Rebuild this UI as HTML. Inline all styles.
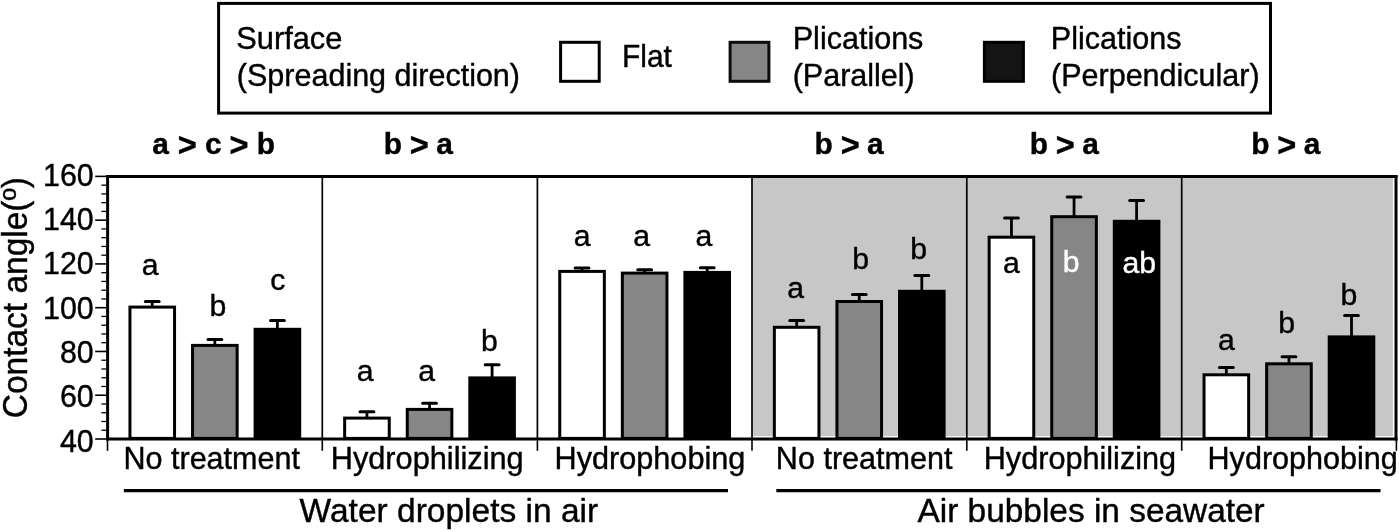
<!DOCTYPE html>
<html><head><meta charset="utf-8"><title>Contact angle chart</title>
<style>
html,body{margin:0;padding:0;background:#fff;}
svg{display:block;font-family:"Liberation Sans", sans-serif;}
</style></head>
<body>
<svg width="1400" height="532" viewBox="0 0 1400 532">
<rect width="1400" height="532" fill="#fff"/>
<rect x="218.6" y="3.4" width="1051.9" height="109.7" fill="#fff" stroke="#000" stroke-width="3"/>
<rect x="560.6" y="42.3" width="38.6" height="39" fill="#fff" stroke="#000" stroke-width="3"/>
<rect x="730.1" y="42.3" width="38.8" height="39" fill="#868686" stroke="#0c0c0c" stroke-width="3"/>
<rect x="984.4" y="42.3" width="39" height="39" fill="#141414" stroke="#000" stroke-width="3"/>
<rect x="752" y="176.4" width="640.9" height="259.8" fill="#c7c7c7"/>
<line x1="322.3" y1="176.4" x2="322.3" y2="439" stroke="#000" stroke-width="1.7"/>
<line x1="537.4" y1="176.4" x2="537.4" y2="439" stroke="#000" stroke-width="1.7"/>
<line x1="752.0" y1="176.4" x2="752.0" y2="439" stroke="#000" stroke-width="1.7"/>
<line x1="966.8" y1="176.4" x2="966.8" y2="439" stroke="#000" stroke-width="1.7"/>
<line x1="1181.7" y1="176.4" x2="1181.7" y2="439" stroke="#000" stroke-width="1.7"/>
<line x1="152.25" y1="301.40" x2="152.25" y2="307.10" stroke="#000" stroke-width="2.8"/>
<line x1="145.35" y1="301.40" x2="159.15" y2="301.40" stroke="#000" stroke-width="3" stroke-linecap="round"/>
<rect x="129.95" y="307.10" width="44.60" height="131.30" fill="#fff" stroke="#000" stroke-width="3"/>
<line x1="214.85" y1="339.60" x2="214.85" y2="345.40" stroke="#000" stroke-width="2.8"/>
<line x1="207.95" y1="339.60" x2="221.75" y2="339.60" stroke="#000" stroke-width="3" stroke-linecap="round"/>
<rect x="192.55" y="345.40" width="44.60" height="93.00" fill="#868686" stroke="#000" stroke-width="3"/>
<line x1="277.40" y1="320.50" x2="277.40" y2="329.30" stroke="#000" stroke-width="2.8"/>
<line x1="270.50" y1="320.50" x2="284.30" y2="320.50" stroke="#000" stroke-width="3" stroke-linecap="round"/>
<rect x="255.10" y="329.30" width="44.60" height="109.10" fill="#000" stroke="#000" stroke-width="3"/>
<line x1="366.95" y1="411.80" x2="366.95" y2="418.10" stroke="#000" stroke-width="2.8"/>
<line x1="360.05" y1="411.80" x2="373.85" y2="411.80" stroke="#000" stroke-width="3" stroke-linecap="round"/>
<rect x="344.65" y="418.10" width="44.60" height="20.30" fill="#fff" stroke="#000" stroke-width="3"/>
<line x1="429.55" y1="403.20" x2="429.55" y2="409.40" stroke="#000" stroke-width="2.8"/>
<line x1="422.65" y1="403.20" x2="436.45" y2="403.20" stroke="#000" stroke-width="3" stroke-linecap="round"/>
<rect x="407.25" y="409.40" width="44.60" height="29.00" fill="#868686" stroke="#000" stroke-width="3"/>
<line x1="492.10" y1="364.70" x2="492.10" y2="377.90" stroke="#000" stroke-width="2.8"/>
<line x1="485.20" y1="364.70" x2="499.00" y2="364.70" stroke="#000" stroke-width="3" stroke-linecap="round"/>
<rect x="469.80" y="377.90" width="44.60" height="60.50" fill="#000" stroke="#000" stroke-width="3"/>
<line x1="582.05" y1="268.00" x2="582.05" y2="271.40" stroke="#000" stroke-width="2.8"/>
<line x1="575.15" y1="268.00" x2="588.95" y2="268.00" stroke="#000" stroke-width="3" stroke-linecap="round"/>
<rect x="559.75" y="271.40" width="44.60" height="167.00" fill="#fff" stroke="#000" stroke-width="3"/>
<line x1="644.65" y1="269.70" x2="644.65" y2="273.10" stroke="#000" stroke-width="2.8"/>
<line x1="637.75" y1="269.70" x2="651.55" y2="269.70" stroke="#000" stroke-width="3" stroke-linecap="round"/>
<rect x="622.35" y="273.10" width="44.60" height="165.30" fill="#868686" stroke="#000" stroke-width="3"/>
<line x1="707.20" y1="267.70" x2="707.20" y2="272.40" stroke="#000" stroke-width="2.8"/>
<line x1="700.30" y1="267.70" x2="714.10" y2="267.70" stroke="#000" stroke-width="3" stroke-linecap="round"/>
<rect x="684.90" y="272.40" width="44.60" height="166.00" fill="#000" stroke="#000" stroke-width="3"/>
<line x1="796.65" y1="320.40" x2="796.65" y2="327.30" stroke="#000" stroke-width="2.8"/>
<line x1="789.75" y1="320.40" x2="803.55" y2="320.40" stroke="#000" stroke-width="3" stroke-linecap="round"/>
<rect x="774.35" y="327.30" width="44.60" height="111.10" fill="#fff" stroke="#000" stroke-width="3"/>
<line x1="859.25" y1="294.50" x2="859.25" y2="301.50" stroke="#000" stroke-width="2.8"/>
<line x1="852.35" y1="294.50" x2="866.15" y2="294.50" stroke="#000" stroke-width="3" stroke-linecap="round"/>
<rect x="836.95" y="301.50" width="44.60" height="136.90" fill="#868686" stroke="#000" stroke-width="3"/>
<line x1="921.80" y1="275.50" x2="921.80" y2="291.30" stroke="#000" stroke-width="2.8"/>
<line x1="914.90" y1="275.50" x2="928.70" y2="275.50" stroke="#000" stroke-width="3" stroke-linecap="round"/>
<rect x="899.50" y="291.30" width="44.60" height="147.10" fill="#000" stroke="#000" stroke-width="3"/>
<line x1="1011.45" y1="217.90" x2="1011.45" y2="237.20" stroke="#000" stroke-width="2.8"/>
<line x1="1004.55" y1="217.90" x2="1018.35" y2="217.90" stroke="#000" stroke-width="3" stroke-linecap="round"/>
<rect x="989.15" y="237.20" width="44.60" height="201.20" fill="#fff" stroke="#000" stroke-width="3"/>
<line x1="1074.05" y1="197.00" x2="1074.05" y2="216.70" stroke="#000" stroke-width="2.8"/>
<line x1="1067.15" y1="197.00" x2="1080.95" y2="197.00" stroke="#000" stroke-width="3" stroke-linecap="round"/>
<rect x="1051.75" y="216.70" width="44.60" height="221.70" fill="#868686" stroke="#000" stroke-width="3"/>
<line x1="1136.60" y1="200.50" x2="1136.60" y2="221.30" stroke="#000" stroke-width="2.8"/>
<line x1="1129.70" y1="200.50" x2="1143.50" y2="200.50" stroke="#000" stroke-width="3" stroke-linecap="round"/>
<rect x="1114.30" y="221.30" width="44.60" height="217.10" fill="#000" stroke="#000" stroke-width="3"/>
<line x1="1226.35" y1="367.50" x2="1226.35" y2="374.80" stroke="#000" stroke-width="2.8"/>
<line x1="1219.45" y1="367.50" x2="1233.25" y2="367.50" stroke="#000" stroke-width="3" stroke-linecap="round"/>
<rect x="1204.05" y="374.80" width="44.60" height="63.60" fill="#fff" stroke="#000" stroke-width="3"/>
<line x1="1288.95" y1="356.70" x2="1288.95" y2="363.80" stroke="#000" stroke-width="2.8"/>
<line x1="1282.05" y1="356.70" x2="1295.85" y2="356.70" stroke="#000" stroke-width="3" stroke-linecap="round"/>
<rect x="1266.65" y="363.80" width="44.60" height="74.60" fill="#868686" stroke="#000" stroke-width="3"/>
<line x1="1351.50" y1="315.60" x2="1351.50" y2="336.90" stroke="#000" stroke-width="2.8"/>
<line x1="1344.60" y1="315.60" x2="1358.40" y2="315.60" stroke="#000" stroke-width="3" stroke-linecap="round"/>
<rect x="1329.20" y="336.90" width="44.60" height="101.50" fill="#000" stroke="#000" stroke-width="3"/>
<line x1="107.6" y1="174.9" x2="107.6" y2="440.5" stroke="#000" stroke-width="3"/>
<line x1="106.1" y1="176.4" x2="1397.5" y2="176.4" stroke="#000" stroke-width="3"/>
<line x1="106.1" y1="439" x2="1397.5" y2="439" stroke="#000" stroke-width="3"/>
<line x1="1396.0" y1="174.9" x2="1396.0" y2="440.5" stroke="#000" stroke-width="3"/>
<line x1="95.2" y1="439.00" x2="106.5" y2="439.00" stroke="#000" stroke-width="1.6"/>
<line x1="101.4" y1="430.25" x2="106.5" y2="430.25" stroke="#000" stroke-width="1.3"/>
<line x1="101.4" y1="421.49" x2="106.5" y2="421.49" stroke="#000" stroke-width="1.3"/>
<line x1="101.4" y1="412.74" x2="106.5" y2="412.74" stroke="#000" stroke-width="1.3"/>
<line x1="101.4" y1="403.99" x2="106.5" y2="403.99" stroke="#000" stroke-width="1.3"/>
<line x1="95.2" y1="395.23" x2="106.5" y2="395.23" stroke="#000" stroke-width="1.6"/>
<line x1="101.4" y1="386.48" x2="106.5" y2="386.48" stroke="#000" stroke-width="1.3"/>
<line x1="101.4" y1="377.73" x2="106.5" y2="377.73" stroke="#000" stroke-width="1.3"/>
<line x1="101.4" y1="368.97" x2="106.5" y2="368.97" stroke="#000" stroke-width="1.3"/>
<line x1="101.4" y1="360.22" x2="106.5" y2="360.22" stroke="#000" stroke-width="1.3"/>
<line x1="95.2" y1="351.47" x2="106.5" y2="351.47" stroke="#000" stroke-width="1.6"/>
<line x1="101.4" y1="342.71" x2="106.5" y2="342.71" stroke="#000" stroke-width="1.3"/>
<line x1="101.4" y1="333.96" x2="106.5" y2="333.96" stroke="#000" stroke-width="1.3"/>
<line x1="101.4" y1="325.21" x2="106.5" y2="325.21" stroke="#000" stroke-width="1.3"/>
<line x1="101.4" y1="316.45" x2="106.5" y2="316.45" stroke="#000" stroke-width="1.3"/>
<line x1="95.2" y1="307.70" x2="106.5" y2="307.70" stroke="#000" stroke-width="1.6"/>
<line x1="101.4" y1="298.95" x2="106.5" y2="298.95" stroke="#000" stroke-width="1.3"/>
<line x1="101.4" y1="290.19" x2="106.5" y2="290.19" stroke="#000" stroke-width="1.3"/>
<line x1="101.4" y1="281.44" x2="106.5" y2="281.44" stroke="#000" stroke-width="1.3"/>
<line x1="101.4" y1="272.69" x2="106.5" y2="272.69" stroke="#000" stroke-width="1.3"/>
<line x1="95.2" y1="263.93" x2="106.5" y2="263.93" stroke="#000" stroke-width="1.6"/>
<line x1="101.4" y1="255.18" x2="106.5" y2="255.18" stroke="#000" stroke-width="1.3"/>
<line x1="101.4" y1="246.43" x2="106.5" y2="246.43" stroke="#000" stroke-width="1.3"/>
<line x1="101.4" y1="237.67" x2="106.5" y2="237.67" stroke="#000" stroke-width="1.3"/>
<line x1="101.4" y1="228.92" x2="106.5" y2="228.92" stroke="#000" stroke-width="1.3"/>
<line x1="95.2" y1="220.17" x2="106.5" y2="220.17" stroke="#000" stroke-width="1.6"/>
<line x1="101.4" y1="211.41" x2="106.5" y2="211.41" stroke="#000" stroke-width="1.3"/>
<line x1="101.4" y1="202.66" x2="106.5" y2="202.66" stroke="#000" stroke-width="1.3"/>
<line x1="101.4" y1="193.91" x2="106.5" y2="193.91" stroke="#000" stroke-width="1.3"/>
<line x1="101.4" y1="185.15" x2="106.5" y2="185.15" stroke="#000" stroke-width="1.3"/>
<line x1="95.2" y1="176.40" x2="106.5" y2="176.40" stroke="#000" stroke-width="1.6"/>
<line x1="107.5" y1="439" x2="107.5" y2="450.8" stroke="#000" stroke-width="1.6"/>
<line x1="322.3" y1="439" x2="322.3" y2="450.8" stroke="#000" stroke-width="1.6"/>
<line x1="537.4" y1="439" x2="537.4" y2="450.8" stroke="#000" stroke-width="1.6"/>
<line x1="752.0" y1="439" x2="752.0" y2="450.8" stroke="#000" stroke-width="1.6"/>
<line x1="966.8" y1="439" x2="966.8" y2="450.8" stroke="#000" stroke-width="1.6"/>
<line x1="1181.7" y1="439" x2="1181.7" y2="450.8" stroke="#000" stroke-width="1.6"/>
<line x1="1396.4" y1="439" x2="1396.4" y2="450.8" stroke="#000" stroke-width="1.6"/>
<line x1="123.8" y1="490.6" x2="728" y2="490.6" stroke="#000" stroke-width="3.4"/>
<line x1="776.3" y1="490.6" x2="1380.5" y2="490.6" stroke="#000" stroke-width="3.4"/>
<text transform="translate(236.27,48.95)" font-size="30.77" fill="#000" stroke="#000" stroke-width="0.4">Surface</text>
<text transform="translate(236.87,86.10)" font-size="30.51" fill="#000" stroke="#000" stroke-width="0.4">(Spreading direction)</text>
<text transform="translate(622.00,67.30) scale(1,1.02)" font-size="29.95" fill="#000" stroke="#000" stroke-width="0.4">Flat</text>
<text transform="translate(792.76,48.95)" font-size="30.53" fill="#000" stroke="#000" stroke-width="0.4">Plications</text>
<text transform="translate(792.67,86.10)" font-size="30.53" fill="#000" stroke="#000" stroke-width="0.4">(Parallel)</text>
<text transform="translate(1050.86,48.95)" font-size="30.51" fill="#000" stroke="#000" stroke-width="0.4">Plications</text>
<text transform="translate(1051.07,86.10)" font-size="30.51" fill="#000" stroke="#000" stroke-width="0.4">(Perpendicular)</text>
<text transform="translate(42.98,185.68) scale(1,1.055)" font-size="30.40" fill="#000" stroke="#000" stroke-width="0.4">160</text>
<text transform="translate(42.98,230.02) scale(1,1.055)" font-size="30.40" fill="#000" stroke="#000" stroke-width="0.4">140</text>
<text transform="translate(42.98,274.36) scale(1,1.055)" font-size="30.40" fill="#000" stroke="#000" stroke-width="0.4">120</text>
<text transform="translate(42.98,318.70) scale(1,1.055)" font-size="30.40" fill="#000" stroke="#000" stroke-width="0.4">100</text>
<text transform="translate(59.88,363.04) scale(1,1.055)" font-size="30.40" fill="#000" stroke="#000" stroke-width="0.4">80</text>
<text transform="translate(59.88,407.38) scale(1,1.055)" font-size="30.40" fill="#000" stroke="#000" stroke-width="0.4">60</text>
<text transform="translate(59.88,451.72) scale(1,1.055)" font-size="30.40" fill="#000" stroke="#000" stroke-width="0.4">40</text>
<text transform="translate(123.56,469.20)" font-size="30.51" fill="#000" stroke="#000" stroke-width="0.4">No treatment</text>
<text transform="translate(330.74,469.20)" font-size="30.73" fill="#000" stroke="#000" stroke-width="0.4">Hydrophilizing</text>
<text transform="translate(554.55,469.20)" font-size="30.65" fill="#000" stroke="#000" stroke-width="0.4">Hydrophobing</text>
<text transform="translate(775.86,469.20)" font-size="30.55" fill="#000" stroke="#000" stroke-width="0.4">No treatment</text>
<text transform="translate(983.75,469.20)" font-size="30.64" fill="#000" stroke="#000" stroke-width="0.4">Hydrophilizing</text>
<text transform="translate(1207.55,469.20)" font-size="30.57" fill="#000" stroke="#000" stroke-width="0.4">Hydrophobing</text>
<text transform="translate(299.60,522.20)" font-size="33.51" fill="#000" stroke="#000" stroke-width="0.4">Water droplets in air</text>
<text transform="translate(917.50,522.20)" font-size="33.42" fill="#000" stroke="#000" stroke-width="0.4">Air bubbles in seawater</text>
<text transform="translate(141.64,274.50)" font-size="30.20" fill="#000" stroke="#000" stroke-width="0.4">a</text>
<text transform="translate(209.54,315.90)" font-size="30.20" fill="#000" stroke="#000" stroke-width="0.4">b</text>
<text transform="translate(270.25,289.60)" font-size="30.20" fill="#000" stroke="#000" stroke-width="0.4">c</text>
<text transform="translate(356.74,380.50)" font-size="30.20" fill="#000" stroke="#000" stroke-width="0.4">a</text>
<text transform="translate(418.24,380.50)" font-size="30.20" fill="#000" stroke="#000" stroke-width="0.4">a</text>
<text transform="translate(481.04,350.60)" font-size="30.20" fill="#000" stroke="#000" stroke-width="0.4">b</text>
<text transform="translate(573.74,245.60)" font-size="30.20" fill="#000" stroke="#000" stroke-width="0.4">a</text>
<text transform="translate(633.14,245.60)" font-size="30.20" fill="#000" stroke="#000" stroke-width="0.4">a</text>
<text transform="translate(695.54,245.60)" font-size="30.20" fill="#000" stroke="#000" stroke-width="0.4">a</text>
<text transform="translate(787.34,297.80)" font-size="30.20" fill="#000" stroke="#000" stroke-width="0.4">a</text>
<text transform="translate(852.24,268.70)" font-size="30.20" fill="#000" stroke="#000" stroke-width="0.4">b</text>
<text transform="translate(910.14,258.90)" font-size="30.20" fill="#000" stroke="#000" stroke-width="0.4">b</text>
<text transform="translate(1003.04,272.60)" font-size="30.20" fill="#000" stroke="#000" stroke-width="0.4">a</text>
<text transform="translate(1062.74,272.30)" font-size="30.20" fill="#fff" stroke="#fff" stroke-width="0.4">b</text>
<text transform="translate(1122.55,272.60)" font-size="30.20" fill="#fff" stroke="#fff" stroke-width="0.4">ab</text>
<text transform="translate(1217.94,349.80)" font-size="30.20" fill="#000" stroke="#000" stroke-width="0.4">a</text>
<text transform="translate(1278.24,333.40)" font-size="30.20" fill="#000" stroke="#000" stroke-width="0.4">b</text>
<text transform="translate(1340.44,305.00)" font-size="30.20" fill="#000" stroke="#000" stroke-width="0.4">b</text>
<text y="154.4" font-size="29.9" font-weight="bold" stroke="#000" stroke-width="0.4"><tspan x="152.28">a </tspan><tspan x="177.66" dy="1.9" font-size="32.5">&gt; </tspan><tspan x="204.88" dy="-1.9">c </tspan><tspan x="229.41" dy="1.9" font-size="32.5">&gt; </tspan><tspan x="256.83" dy="-1.9">b</tspan></text>
<text y="154.4" font-size="29.9" font-weight="bold" stroke="#000" stroke-width="0.4"><tspan x="383.68">b </tspan><tspan x="409.81" dy="1.9" font-size="32.5">&gt; </tspan><tspan x="436.18" dy="-1.9">a</tspan></text>
<text y="154.4" font-size="29.9" font-weight="bold" stroke="#000" stroke-width="0.4"><tspan x="814.58">b </tspan><tspan x="840.71" dy="1.9" font-size="32.5">&gt; </tspan><tspan x="867.08" dy="-1.9">a</tspan></text>
<text y="154.4" font-size="29.9" font-weight="bold" stroke="#000" stroke-width="0.4"><tspan x="1029.63">b </tspan><tspan x="1055.76" dy="1.9" font-size="32.5">&gt; </tspan><tspan x="1082.13" dy="-1.9">a</tspan></text>
<text y="154.4" font-size="29.9" font-weight="bold" stroke="#000" stroke-width="0.4"><tspan x="1251.13">b </tspan><tspan x="1277.26" dy="1.9" font-size="32.5">&gt; </tspan><tspan x="1303.63" dy="-1.9">a</tspan></text>
<text transform="translate(27.3,418.3) rotate(-90) scale(1,1.02)" font-size="33.5" stroke="#000" stroke-width="0.4">Contact angle(º)</text>
</svg>
</body></html>
